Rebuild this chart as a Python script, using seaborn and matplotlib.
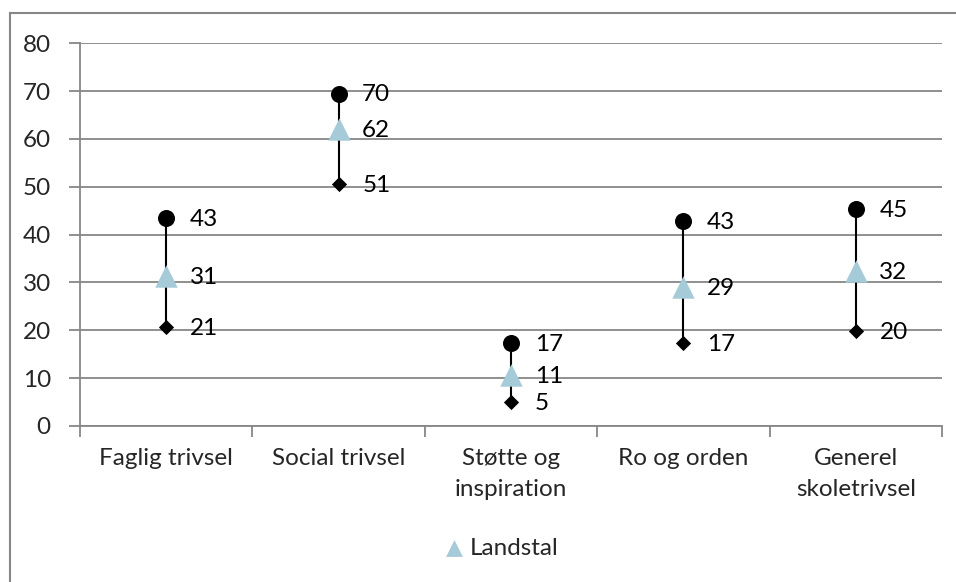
import matplotlib
matplotlib.use("Agg")
import matplotlib.pyplot as plt
import seaborn as sns
import pandas as pd
from matplotlib.patches import Rectangle
from matplotlib.ticker import FixedLocator

categories = ["Faglig trivsel", "Social trivsel", "Støtte og\ninspiration",
              "Ro og orden", "Generel\nskoletrivsel"]
high = [43.4, 69.5, 17.4, 42.8, 45.4]
landstal = [31.4, 62.1, 10.6, 29.1, 32.3]
low = [20.6, 50.6, 5.0, 17.3, 19.9]

df = pd.DataFrame({"kategori": categories, "high": high, "landstal": landstal, "low": low})

sns.set_theme(style="white")
plt.rcParams["font.family"] = ["Lato", "DejaVu Sans"]
grid_col = "#878787"
fs = 17.5

fig = plt.figure(figsize=(9.56, 5.82), dpi=100)
ax = fig.add_axes([80 / 956, (582 - 426) / 582, 862 / 956, (426 - 43.3) / 582])

x = list(range(len(categories)))
ax.vlines(x, df["low"], df["high"], color="black", lw=1.5, zorder=3)
sns.scatterplot(x=x, y=df["high"], marker="o", s=150, color="black",
                edgecolor="black", linewidth=0, ax=ax, zorder=4, legend=False)
sns.scatterplot(x=x, y=df["low"], marker="D", s=60, color="black",
                edgecolor="black", linewidth=0, ax=ax, zorder=4, legend=False)
sns.scatterplot(x=x, y=df["landstal"], marker="^", s=260, color="#A5CAD8",
                edgecolor="#A5CAD8", linewidth=0, ax=ax, zorder=5, label="Landstal")

for i in x:
    for col in ["high", "landstal", "low"]:
        v = df[col][i]
        ax.annotate(f"{round(v):.0f}", (i, v), xytext=(17, -1), textcoords="offset points",
                    va="center", ha="left", fontsize=fs, color="black", zorder=6)

ax.set_xlim(-0.5, 4.5)
ax.set_ylim(0, 80)
ax.set_yticks(range(0, 81, 10))
ax.set_xticks(x)
ax.set_xticklabels(categories, fontsize=fs, linespacing=1.6)
ax.xaxis.set_minor_locator(FixedLocator([i - 0.5 for i in range(6)]))
ax.tick_params(axis="x", which="major", length=0, pad=16)
ax.tick_params(axis="x", which="minor", length=8, width=1.3, color=grid_col, direction="out", bottom=True)
ax.tick_params(axis="y", length=8, width=1.3, color=grid_col, direction="out", left=True, pad=13, labelsize=fs)
ax.grid(axis="y", color=grid_col, lw=1.3)
ax.set_axisbelow(True)
ax.set_xlabel("")
ax.set_ylabel("")
for s in ["top", "right"]:
    ax.spines[s].set_visible(False)
for s in ["left", "bottom"]:
    ax.spines[s].set_color(grid_col)
    ax.spines[s].set_linewidth(1.3)

handles, labels = ax.get_legend_handles_labels()
ax.legend(handles, labels, loc="center", bbox_to_anchor=(494 / 956, 1 - 548 / 582),
          bbox_transform=fig.transFigure, frameon=False, fontsize=fs,
          handletextpad=-0.35, markerscale=0.75)

fig.add_artist(Rectangle((10 / 956, -0.05), 1.0, 1.05 - 13 / 582, transform=fig.transFigure,
                         fill=False, edgecolor=grid_col, lw=1.5))

fig.savefig("out.png", dpi=100)
